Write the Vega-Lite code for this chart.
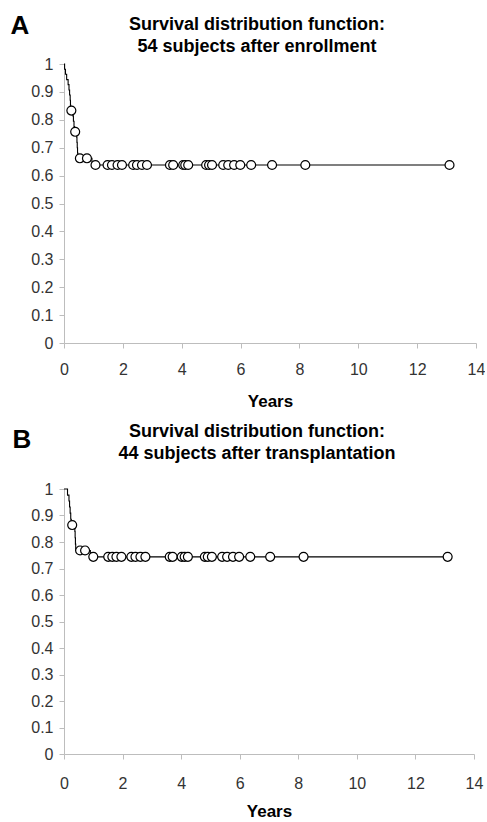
{
  "$schema": "https://vega.github.io/schema/vega-lite/v6.json",
  "padding": {"left": 10, "top": 12, "right": 0, "bottom": 0},
  "background": "white",
  "spacing": 14,
  "config": {
    "view": {"stroke": null},
    "font": "Liberation Sans",
    "axis": {
      "grid": false,
      "domainColor": "#bdbdbd",
      "tickColor": "#bdbdbd",
      "tickSize": 5,
      "labelOverlap": false,
      "labelFlush": false,
      "labelBound": false,
      "labelFont": "Liberation Sans",
      "labelFontSize": 16,
      "labelColor": "#333333",
      "titleFont": "Liberation Sans",
      "titleFontSize": 17,
      "titleFontWeight": "bold",
      "titleColor": "#000000"
    },
    "title": {"font": "Liberation Sans", "fontSize": 18, "fontWeight": "bold", "color": "#000000", "lineHeight": 22}
  },
  "datasets": {
    "curveA": [
      {"t": 0, "s": 1}, {"t": 0.02, "s": 0.981}, {"t": 0.05, "s": 0.963}, {"t": 0.09, "s": 0.944},
      {"t": 0.14, "s": 0.926}, {"t": 0.17, "s": 0.907}, {"t": 0.19, "s": 0.889}, {"t": 0.21, "s": 0.87},
      {"t": 0.22, "s": 0.852}, {"t": 0.23, "s": 0.833}, {"t": 0.3, "s": 0.814}, {"t": 0.32, "s": 0.795},
      {"t": 0.34, "s": 0.776}, {"t": 0.36, "s": 0.757}, {"t": 0.43, "s": 0.738}, {"t": 0.44, "s": 0.719},
      {"t": 0.45, "s": 0.7}, {"t": 0.46, "s": 0.681}, {"t": 0.47, "s": 0.662}, {"t": 0.95, "s": 0.638},
      {"t": 13.1, "s": 0.638}
    ],
    "censA": [
      {"t": 0.25, "s": 0.833}, {"t": 0.38, "s": 0.757}, {"t": 0.54, "s": 0.662}, {"t": 0.78, "s": 0.662},
      {"t": 1.07, "s": 0.638}, {"t": 1.48, "s": 0.638}, {"t": 1.63, "s": 0.638}, {"t": 1.82, "s": 0.638},
      {"t": 1.97, "s": 0.638}, {"t": 2.35, "s": 0.638}, {"t": 2.48, "s": 0.638}, {"t": 2.65, "s": 0.638},
      {"t": 2.82, "s": 0.638}, {"t": 3.6, "s": 0.638}, {"t": 3.71, "s": 0.638}, {"t": 4.05, "s": 0.638},
      {"t": 4.12, "s": 0.638}, {"t": 4.22, "s": 0.638}, {"t": 4.83, "s": 0.638}, {"t": 4.93, "s": 0.638},
      {"t": 5.03, "s": 0.638}, {"t": 5.41, "s": 0.638}, {"t": 5.58, "s": 0.638}, {"t": 5.78, "s": 0.638},
      {"t": 5.99, "s": 0.638}, {"t": 6.36, "s": 0.638}, {"t": 7.07, "s": 0.638}, {"t": 8.2, "s": 0.638},
      {"t": 13.1, "s": 0.638}
    ],
    "curveB": [
      {"t": 0, "s": 1}, {"t": 0.12, "s": 0.977}, {"t": 0.17, "s": 0.955}, {"t": 0.19, "s": 0.932},
      {"t": 0.21, "s": 0.909}, {"t": 0.23, "s": 0.886}, {"t": 0.25, "s": 0.864}, {"t": 0.37, "s": 0.84},
      {"t": 0.38, "s": 0.816}, {"t": 0.39, "s": 0.792}, {"t": 0.4, "s": 0.768}, {"t": 0.9, "s": 0.744},
      {"t": 13.1, "s": 0.744}
    ],
    "censB": [
      {"t": 0.28, "s": 0.864}, {"t": 0.55, "s": 0.768}, {"t": 0.72, "s": 0.768},
      {"t": 1.0, "s": 0.744}, {"t": 1.51, "s": 0.744}, {"t": 1.65, "s": 0.744}, {"t": 1.79, "s": 0.744},
      {"t": 1.96, "s": 0.744}, {"t": 2.3, "s": 0.744}, {"t": 2.44, "s": 0.744}, {"t": 2.61, "s": 0.744},
      {"t": 2.78, "s": 0.744}, {"t": 3.61, "s": 0.744}, {"t": 3.71, "s": 0.744}, {"t": 4.02, "s": 0.744},
      {"t": 4.12, "s": 0.744}, {"t": 4.23, "s": 0.744}, {"t": 4.81, "s": 0.744}, {"t": 4.91, "s": 0.744},
      {"t": 5.05, "s": 0.744}, {"t": 5.4, "s": 0.744}, {"t": 5.57, "s": 0.744}, {"t": 5.77, "s": 0.744},
      {"t": 5.98, "s": 0.744}, {"t": 6.36, "s": 0.744}, {"t": 7.04, "s": 0.744}, {"t": 8.18, "s": 0.744},
      {"t": 13.1, "s": 0.744}
    ]
  },
  "vconcat": [
    {
      "width": 412,
      "height": 279,
      "title": {"text": ["Survival distribution function:", "54 subjects after enrollment"], "offset": -44, "frame": "group", "anchor": "middle", "dx": -13},
      "encoding": {
        "x": {"field": "t", "type": "quantitative", "scale": {"domain": [0, 14], "nice": false}, "axis": {"values": [0, 2, 4, 6, 8, 10, 12, 14], "title": "Years", "labelPadding": 13, "titlePadding": 16}},
        "y": {"field": "s", "type": "quantitative", "scale": {"domain": [0, 1], "nice": false}, "axis": {"values": [0, 0.1, 0.2, 0.3, 0.4, 0.5, 0.6, 0.7, 0.8, 0.9, 1], "format": "~g", "labelPadding": 6, "title": "A", "titleAngle": 0, "titleX": -54, "titleY": -31, "titleAlign": "left", "titleBaseline": "alphabetic", "titleFontSize": 26}}
      },
      "layer": [
        {
          "data": {"name": "curveA"},
          "mark": {"type": "line", "interpolate": "step-after", "color": "#000000", "strokeWidth": 1.1}
        },
        {
          "data": {"name": "censA"},
          "mark": {"type": "point", "shape": "circle", "filled": true, "fill": "#ffffff", "stroke": "#000000", "strokeWidth": 1.2, "size": 80, "opacity": 1}
        }
      ]
    },
    {
      "width": 410,
      "height": 265,
      "title": {"text": ["Survival distribution function:", "44 subjects after transplantation"], "offset": -37, "frame": "group", "anchor": "middle", "dx": -12},
      "encoding": {
        "x": {"field": "t", "type": "quantitative", "scale": {"domain": [0, 14], "nice": false}, "axis": {"values": [0, 2, 4, 6, 8, 10, 12, 14], "title": "Years", "labelPadding": 16, "titlePadding": 12}},
        "y": {"field": "s", "type": "quantitative", "scale": {"domain": [0, 1], "nice": false}, "axis": {"values": [0, 0.1, 0.2, 0.3, 0.4, 0.5, 0.6, 0.7, 0.8, 0.9, 1], "format": "~g", "labelPadding": 6, "title": "B", "titleAngle": 0, "titleX": -52, "titleY": -42, "titleAlign": "left", "titleBaseline": "alphabetic", "titleFontSize": 26}}
      },
      "layer": [
        {
          "data": {"name": "curveB"},
          "mark": {"type": "line", "interpolate": "step-after", "color": "#000000", "strokeWidth": 1.1}
        },
        {
          "data": {"name": "censB"},
          "mark": {"type": "point", "shape": "circle", "filled": true, "fill": "#ffffff", "stroke": "#000000", "strokeWidth": 1.2, "size": 80, "opacity": 1}
        }
      ]
    }
  ]
}
